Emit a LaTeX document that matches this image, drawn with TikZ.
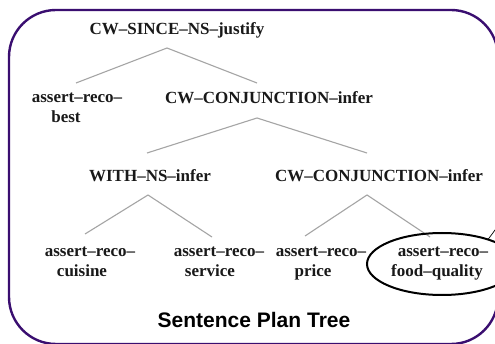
\documentclass[tikz,border=0pt]{standalone}
\usepackage{fontspec}
\setmainfont{Liberation Serif}
\newfontfamily\captionfont{Liberation Sans}
\usetikzlibrary{shapes.geometric}

\definecolor{framepurple}{RGB}{58,14,112}
\definecolor{edgegray}{RGB}{165,165,165}

\tikzset{
  lbl/.style={font=\fontsize{17}{20}\selectfont\bfseries, inner sep=0pt,
              anchor=base, align=center, text=black!90},
  edge/.style={draw=edgegray, line width=1.1pt},
  frame/.style={draw=framepurple, line width=2.4pt, rounded corners=47pt},
  ring/.style={draw=black, line width=2pt, ellipse, inner sep=0pt,
               minimum width=150pt, minimum height=62pt},
}
% second line of a leaf label, pushed left by #1
\newcommand{\leafline}[2]{\hbox{#2\kern#1pt}}

\begin{document}
\begin{tikzpicture}[x=1pt, y=-1pt]
  \useasboundingbox (0,0) rectangle (495,344);
  \fill[white] (0,0) rectangle (495,344);

  % outer frame
  \draw[frame] (9,10) rectangle (498,344);

  % tree labels (two-line labels sit on the baseline of their last line)
  \node[lbl] (root)    at (177,35)  {CW–SINCE–NS–justify};
  \node[lbl] (best)    at (77,123)  {assert–reco–\\\leafline{22}{best}};
  \node[lbl] (conjA)   at (269,104) {CW–CONJUNCTION–infer};
  \node[lbl] (with)    at (150,182) {WITH–NS–infer};
  \node[lbl] (conjB)   at (379,182) {CW–CONJUNCTION–infer};
  \node[lbl] (cuisine) at (90,277)  {assert–reco–\\\leafline{16}{cuisine}};
  \node[lbl] (service) at (219,277) {assert–reco–\\\leafline{18}{service}};
  \node[lbl] (price)   at (321,277) {assert–reco–\\\leafline{16}{price}};
  \node[lbl] (food)    at (443,277) {assert–reco–\\\leafline{12}{food–quality}};

  % tree edges
  \draw[edge] ([shift={(-1,-40)}]best.base)   -- ([shift={(-10,13)}]root.base)
              -- ([shift={(-12,-21)}]conjA.base);
  \draw[edge] ([shift={(-3,-29)}]with.base)   -- ([shift={(-12,14)}]conjA.base)
              -- ([shift={(-12,-29)}]conjB.base);
  \draw[edge] ([shift={(-5,-43)}]cuisine.base) -- ([shift={(-2,13)}]with.base)
              -- ([shift={(-7,-40)}]service.base);
  \draw[edge] ([shift={(-16,-41)}]price.base)  -- ([shift={(-12,13)}]conjB.base)
              -- ([shift={(-13,-40)}]food.base);

  % highlighted leaf
  \node[ring] (focus) at (442,264) {};
  \coordinate (away) at (498,226);
  \draw[black, line width=0.7pt] ([shift={(46,-24.5)}]focus.center) -- (away);

  % caption
  \node[font=\captionfont\bfseries\fontsize{21}{24}\selectfont, inner sep=0pt,
        anchor=base] (caption) at (254,327) {Sentence Plan Tree};
\end{tikzpicture}
\end{document}
